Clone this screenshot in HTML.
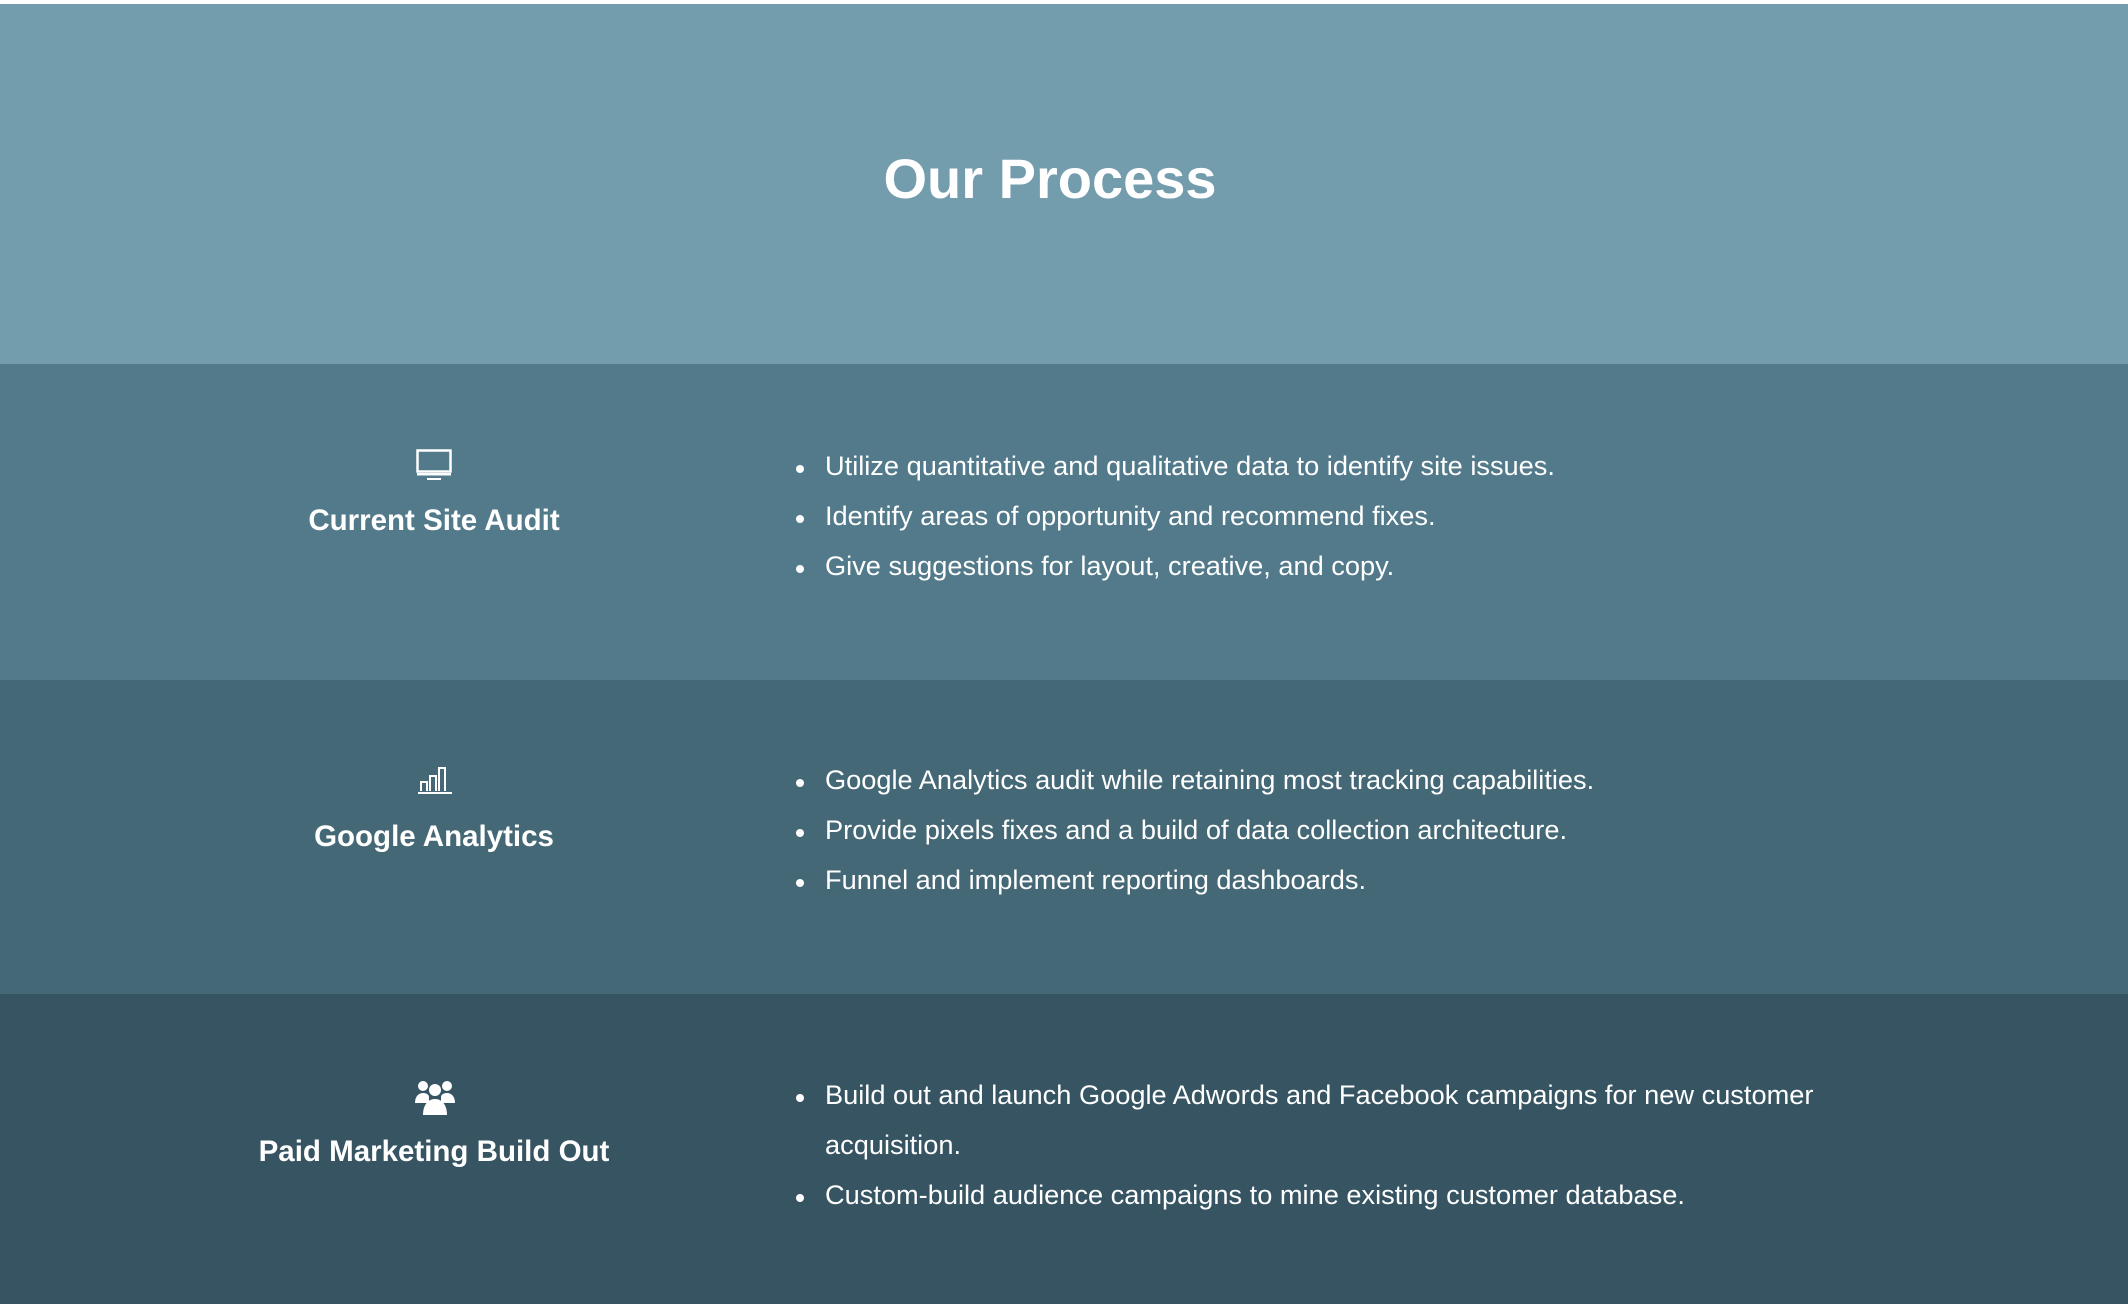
<!DOCTYPE html>
<html><head><meta charset="utf-8"><style>
*{margin:0;padding:0;box-sizing:border-box}
body{width:2128px;height:1304px;overflow:hidden;background:#fff;font-family:"Liberation Sans",sans-serif;color:#fff;position:relative}
.band{position:absolute;left:0;width:2128px}
.t{position:absolute;white-space:nowrap}
h1{position:absolute;left:0;width:2100px;text-align:center;top:146px;font-size:56px;font-weight:bold}
.h{position:absolute;left:234px;width:400px;text-align:center;font-size:29.5px;font-weight:bold}
.li{position:absolute;left:825px;font-size:27.2px;white-space:nowrap}
.li:before{content:"";position:absolute;left:-29px;top:15px;width:8px;height:8px;border-radius:50%;background:#fff}
.ic{position:absolute}
</style></head><body>
<div class="band" style="top:4px;height:360px;background:#739cad"></div>
<div class="band" style="top:364px;height:316px;background:#527a8a"></div>
<div class="band" style="top:680px;height:314px;background:#456876"></div>
<div class="band" style="top:994px;height:310px;background:#365462"></div>
<h1>Our Process</h1>

<svg class="ic" style="left:416px;top:449px" width="36" height="32" viewBox="0 0 36 32"><rect x="1.5" y="1.5" width="33" height="21" fill="none" stroke="#fff" stroke-width="2.5"/><rect x="1" y="24" width="34" height="2.5" fill="#fff"/><rect x="11" y="29" width="14" height="2" fill="#fff"/></svg>
<div class="h" style="top:504px">Current Site Audit</div>
<div class="li" style="top:450px">Utilize quantitative and qualitative data to identify site issues.</div>
<div class="li" style="top:500px">Identify areas of opportunity and recommend fixes.</div>
<div class="li" style="top:550px">Give suggestions for layout, creative, and copy.</div>

<svg class="ic" style="left:418px;top:765px" width="34" height="30" viewBox="0 0 34 30"><path d="M3 26V17h6v9M12 26V11h6v15M21 26V3h6v23" fill="none" stroke="#fff" stroke-width="2"/><rect x="0" y="27" width="34" height="2" fill="#fff"/></svg>
<div class="h" style="top:820px">Google Analytics</div>
<div class="li" style="top:764px">Google Analytics audit while retaining most tracking capabilities.</div>
<div class="li" style="top:814px">Provide pixels fixes and a build of data collection architecture.</div>
<div class="li" style="top:864px">Funnel and implement reporting dashboards.</div>

<svg class="ic" style="left:415px;top:1079px" width="40" height="36" viewBox="0 0 40 36"><g fill="#fff"><circle cx="8" cy="7" r="5"/><circle cx="32" cy="7" r="5"/><circle cx="20" cy="11" r="6"/><path d="M0 24c0-7 4-10 8-10s6 2 6 4v6z"/><path d="M40 24c0-7-4-10-8-10s-6 2-6 4v6z"/><path d="M8 36c0-10 5-16 12-16s12 6 12 16z"/></g></svg>
<div class="h" style="top:1135px">Paid Marketing Build Out</div>
<div class="li" style="top:1079px">Build out and launch Google Adwords and Facebook campaigns for new customer</div>
<div class="t" style="left:825px;top:1129px;font-size:27.2px">acquisition.</div>
<div class="li" style="top:1179px">Custom-build audience campaigns to mine existing customer database.</div>
</body></html>
